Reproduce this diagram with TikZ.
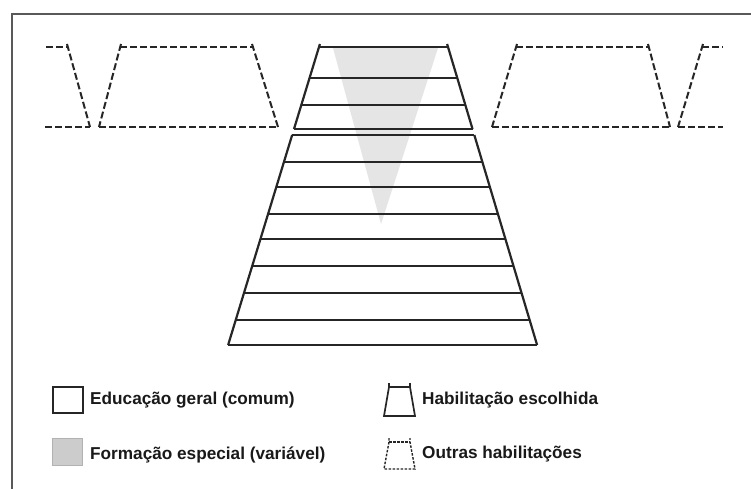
\documentclass[tikz,border=0pt]{standalone}
\usepackage{fontspec}
\setmainfont{Liberation Sans}
\begin{document}
\begin{tikzpicture}[x=1pt,y=-1pt,
  solidline/.style={line width=2.2pt, black!85, line join=miter},
  dashline/.style={line width=2pt, black!85, dash pattern=on 7pt off 3pt},
  legtext/.style={anchor=west, inner sep=0pt, text=black!90, font=\fontsize{17.2}{19}\selectfont\bfseries},
  frameline/.style={line width=2.2pt, black!65}]
\useasboundingbox (0,0) rectangle (751,489);
\fill[white] (0,0) rectangle (751,489);
% frame
\draw[frameline] (751,14) -- (12,14) -- (12,489);
% gray wedge (formacao especial)
\fill[gray!20] (333,48) -- (438,48) -- (381,224) -- cycle;
% main trapezoid, upper block
\draw[solidline] ({319-0.305*(44-47)},44) -- ({319-0.305*(129-47)},129);
\draw[solidline] ({448+0.299*(44-47)},44) -- ({448+0.299*(129-47)},129);
\foreach \yy in {47,78,105,129}
  \draw[solidline] ({319-0.305*(\yy-47)},\yy) -- ({448+0.299*(\yy-47)},\yy);
% main trapezoid, lower block
\draw[solidline] ({319-0.305*(135-47)},135) -- ({319-0.305*(345-47)},345);
\draw[solidline] ({448+0.299*(135-47)},135) -- ({448+0.299*(345-47)},345);
\foreach \yy in {135,162,187,214,239,266,293,320,345}
  \draw[solidline] ({319-0.305*(\yy-47)},\yy) -- ({448+0.299*(\yy-47)},\yy);
% dashed trapezoids (outras habilitacoes)
\draw[dashline] (46,47) -- (67,47);
\draw[dashline] (67,44) -- (90,127);
\draw[dashline] (45,127) -- (90,127);
\draw[dashline] (120,47) -- (253,47);
\draw[dashline] (121,44) -- (99,127);
\draw[dashline] (252,44) -- (278,127);
\draw[dashline] (99,127) -- (278,127);
\draw[dashline] (516,47) -- (649,47);
\draw[dashline] (517,44) -- (492,127);
\draw[dashline] (648,44) -- (670,127);
\draw[dashline] (492,127) -- (670,127);
\draw[dashline] (702,47) -- (723,47);
\draw[dashline] (703,44) -- (678,127);
\draw[dashline] (678,127) -- (723,127);
% legend icons
\draw[line width=2pt, black!85] (53,387) rectangle (83,413);
\fill[gray!40] (52,438) rectangle (82,465);
\draw[line width=0.6pt, gray!60] (52,438) rectangle (82,465);
\draw[line width=1.7pt, black!85] (389,383) -- (389,387) -- (384,416) -- (415,416) -- (410,387) -- (410,383);
\draw[line width=1.7pt, black!85] (389,387) -- (410,387);
\draw[line width=1.4pt, black!85, dash pattern=on 2.5pt off 1.5pt] (389,438) -- (389,442) -- (384,469) -- (415,469) -- (410,442) -- (410,438);
\draw[line width=1.4pt, black!85, dash pattern=on 2.5pt off 1.5pt] (389,442) -- (410,442);
% legend texts
\node[legtext] (t1) at (90,400) {Educação geral (comum)};
\node[legtext] (t2) at (90,455) {Formação especial (variável)};
\node[legtext] (t3) at (422,400) {Habilitação escolhida};
\node[legtext] (t4) at (422,454) {Outras habilitações};
\end{tikzpicture}
\end{document}
